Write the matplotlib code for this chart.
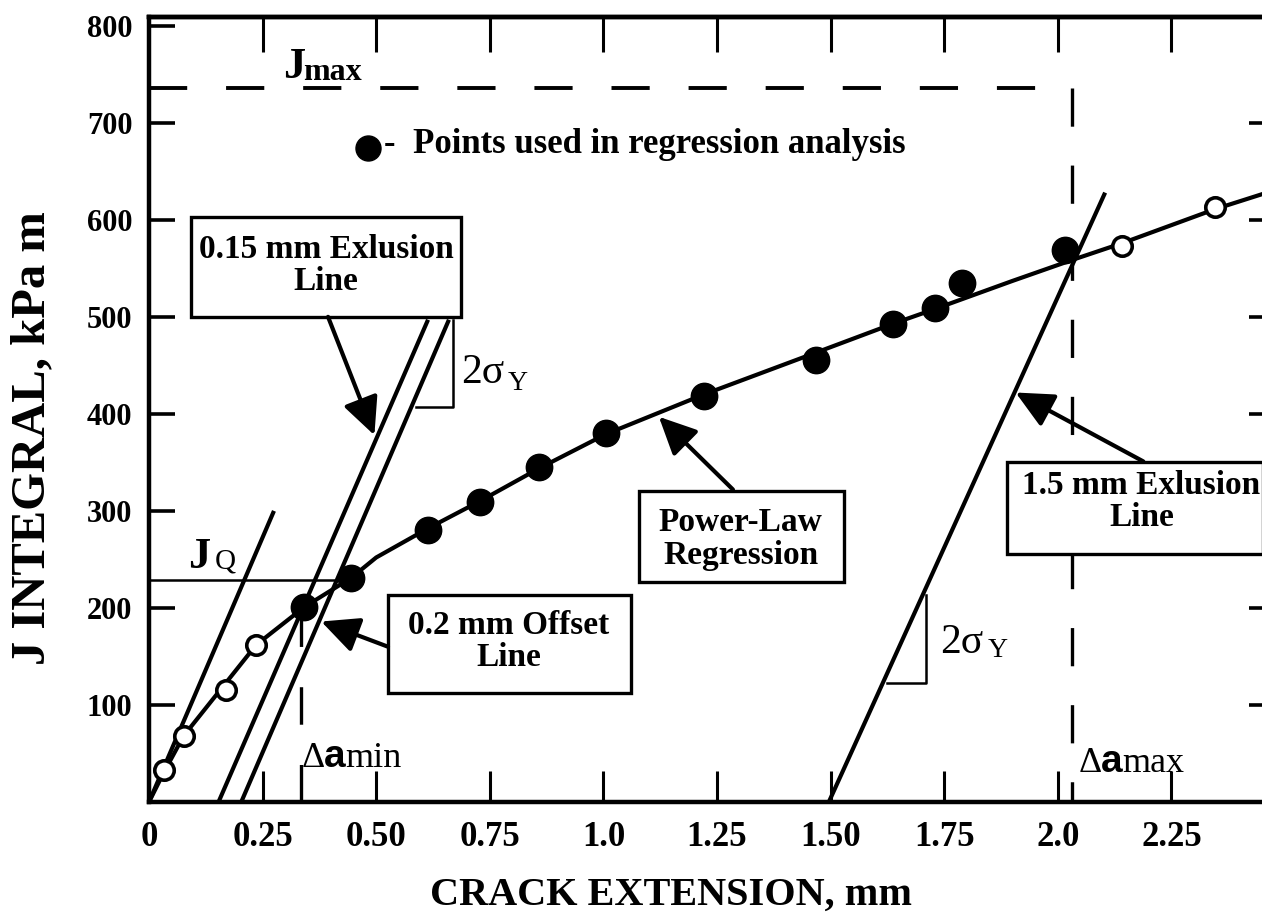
import matplotlib
matplotlib.use("Agg")
import matplotlib.pyplot as plt
from matplotlib.patches import Rectangle

plt.rcParams["font.family"] = ["Liberation Serif", "DejaVu Serif"]
plt.rcParams["lines.scale_dashes"] = False

# crack extension (mm) and J integral (kPa m)
open_x = [0.032, 0.076, 0.170, 0.236, 2.142, 2.346]
open_j = [33, 68, 115, 162, 573, 613]
used_x = [0.342, 0.445, 0.614, 0.728, 0.859, 1.005, 1.221, 1.467, 1.638, 1.729, 1.790, 2.016]
used_j = [201, 231, 280, 309, 345, 380, 418, 456, 493, 509, 535, 569]

# power-law regression curve
curve_x = [0, 0.032, 0.076, 0.236, 0.342, 0.445, 0.50, 0.614, 0.728, 0.859, 1.005,
           1.221, 1.467, 1.638, 1.729, 1.90, 2.034, 2.142, 2.346, 2.46]
curve_j = [0, 30, 68, 162, 201, 231, 252, 282, 310, 344, 379,
           420, 463, 493, 508, 537, 559, 576, 611, 628]

# construction lines (endpoints)
blunt_x, blunt_j = [0, 0.275], [0, 300]
excl015_x, excl015_j = [0.153, 0.614], [0, 497]
offset02_x, offset02_j = [0.203, 0.660], [0, 497]
excl15_x, excl15_j = [1.496, 2.104], [0, 628]

j_max = 736
j_q = 229
jq_end = 0.417
da_min = 0.335
da_min_top = 198
da_max = 2.03

tri_left = ([0.588, 0.669, 0.669], [407, 407, 497])
tri_right = ([1.625, 1.709, 1.709], [123, 123, 213])

xticks = [0, 0.25, 0.5, 0.75, 1.0, 1.25, 1.5, 1.75, 2.0, 2.25]
xtick_labels = ["0", "0.25", "0.50", "0.75", "1.0", "1.25", "1.50", "1.75", "2.0", "2.25"]
yticks = [100, 200, 300, 400, 500, 600, 700, 800]

# callout boxes: text, (x0, x1, y0, y1), text centre, arrow tail, arrow tip
callouts = [
    ("0.15 mm Exlusion\nLine", (0.093, 0.687, 500, 603), (0.39, 553), (0.394, 500), (0.496, 378)),
    ("0.2 mm Offset\nLine", (0.526, 1.060, 112, 213), (0.792, 165), (0.526, 160), (0.379, 186)),
    ("Power-Law\nRegression", (1.078, 1.529, 227, 320), (1.302, 271), (1.285, 322), (1.122, 397)),
    ("1.5 mm Exlusion\nLine", (1.889, 2.452, 256, 350), (2.184, 310), (2.188, 351), (1.907, 422)),
]

fig = plt.figure(figsize=(12.62, 9.18), dpi=100)
ax = fig.add_axes([149 / 1262, 116 / 918, 1117 / 1262, 785 / 918])
ax.set_xlim(0, 2.458)
ax.set_ylim(0, 809)

lw = 3.0
ax.plot(curve_x, curve_j, color="k", lw=lw, zorder=3, solid_joinstyle="round")
for lx, ly in [(blunt_x, blunt_j), (excl015_x, excl015_j),
               (offset02_x, offset02_j), (excl15_x, excl15_j)]:
    ax.plot(lx, ly, color="k", lw=lw, zorder=2, solid_capstyle="butt")

ax.plot([0, jq_end], [j_q, j_q], color="k", lw=1.8, zorder=2)
ax.plot(*tri_left, color="k", lw=1.8, zorder=2)
ax.plot(*tri_right, color="k", lw=1.8, zorder=2)

dash = (0, (27.5, 28))
ax.plot([0, da_max], [j_max, j_max], color="k", lw=2.8, linestyle=dash, zorder=2)
ax.plot([da_max, da_max], [j_max, 0], color="k", lw=2.4, linestyle=dash, zorder=2)
ax.plot([da_min, da_min], [0, da_min_top], color="k", lw=2.4,
        linestyle=(0, (27, 29)), zorder=2)

ax.plot(open_x, open_j, "o", ms=14, mfc="white", mec="k", mew=2.6, zorder=4)
ax.plot(used_x, used_j, "o", ms=19, color="k", zorder=4)

# legend entry
ax.plot([0.482], [674], "o", ms=18, color="k", zorder=4)
ax.text(0.517, 678, "-  Points used in regression analysis", fontsize=25,
        fontweight="bold", ha="left", va="center")

for text, (x0, x1, y0, y1), (tx, ty), tail, tip in callouts:
    ax.add_patch(Rectangle((x0, y0), x1 - x0, y1 - y0, facecolor="white",
                           edgecolor="k", lw=2.4, zorder=5))
    ax.text(tx, ty, text, fontsize=24, fontweight="bold", ha="center",
            va="center", linespacing=1.05, zorder=6)
    ax.annotate("", xy=tip, xytext=tail, zorder=6,
                arrowprops=dict(arrowstyle="-|>,head_length=1.15,head_width=0.55",
                                mutation_scale=20, lw=3, color="k",
                                shrinkA=0, shrinkB=0))

# symbol labels
ax.text(0.296, 746, "J", fontsize=32, fontweight="bold", va="baseline")
ax.text(0.339, 744, "max", fontsize=23, fontweight="bold", va="baseline")
ax.text(0.085, 241, "J", fontsize=32, fontweight="bold", va="baseline")
ax.text(0.144, 241, "Q", fontsize=21, va="baseline")
ax.text(0.336, 36, "\u0394", fontsize=26, va="baseline")
ax.text(0.385, 36, "a", fontsize=28, fontweight="bold", va="baseline", family="Liberation Sans")
ax.text(0.432, 36, "min", fontsize=26, va="baseline")
ax.text(2.045, 31, "\u0394", fontsize=26, va="baseline")
ax.text(2.094, 31, "a", fontsize=28, fontweight="bold", va="baseline", family="Liberation Sans")
ax.text(2.141, 31, "max", fontsize=26, va="baseline")
ax.text(0.687, 432, "2\u03c3", fontsize=30, va="baseline")
ax.text(0.790, 425, "Y", fontsize=20, va="baseline")
ax.text(1.742, 154, "2\u03c3", fontsize=30, va="baseline")
ax.text(1.845, 149, "Y", fontsize=20, va="baseline")

# axes frame and ticks
for side in ["left", "bottom", "top", "right"]:
    ax.spines[side].set_linewidth(3.2)
ax.set_xticks(xticks)
ax.set_xticklabels(xtick_labels)
ax.set_yticks(yticks)
ax.set_yticklabels([str(v) for v in yticks])
ax.tick_params(axis="x", direction="in", length=22, width=2.2, pad=14,
               labelsize=25)
ax.tick_params(axis="y", direction="in", length=19, width=2.6, pad=12,
               labelsize=22)
for lab in ax.get_xticklabels() + ax.get_yticklabels():
    lab.set_fontweight("bold")

top = ax.secondary_xaxis("top")
top.set_xticks(xticks[1:] + [2.5])
top.tick_params(direction="in", length=25, width=2.2, labeltop=False)
top.spines["top"].set_linewidth(3.2)
right = ax.secondary_yaxis("right")
right.set_yticks(yticks[:-1])
right.tick_params(direction="in", length=12, width=2.6, labelright=False)

fig.text(671 / 1262, 1 - 905 / 918, "CRACK EXTENSION, mm", fontsize=29,
         fontweight="bold", ha="center", va="baseline")
fig.text(32 / 1262, 1 - 438 / 918, "J INTEGRAL, kPa m", fontsize=35,
         fontweight="bold", ha="center", va="center", rotation=90)

fig.savefig("out.png", dpi=100)
